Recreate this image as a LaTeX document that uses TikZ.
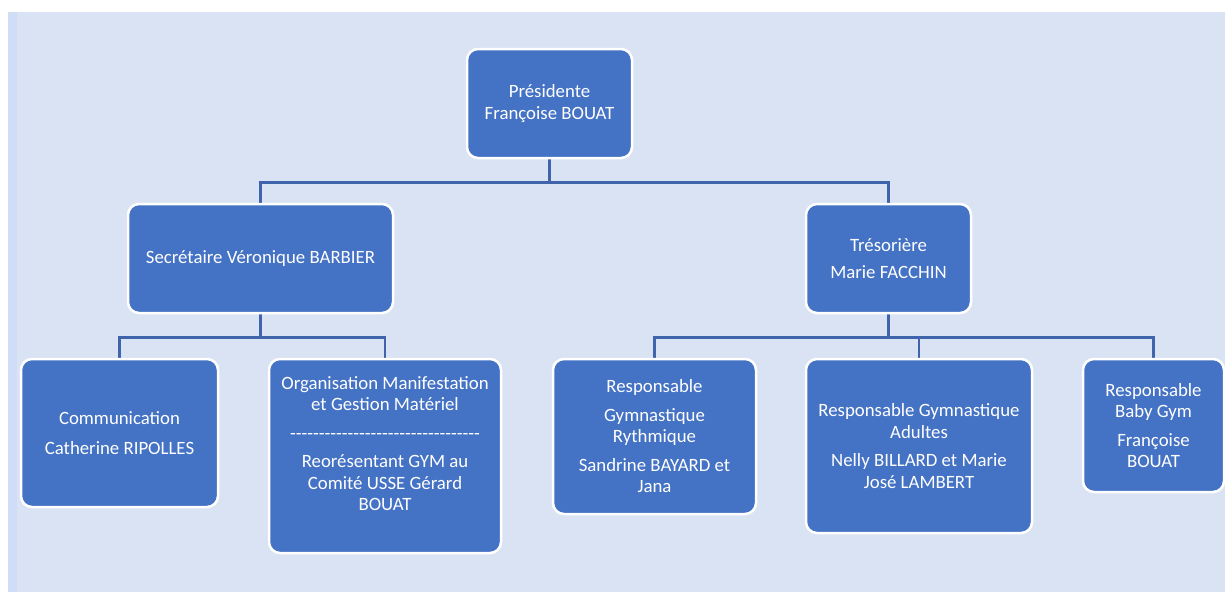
\documentclass[tikz,border=0pt]{standalone}
\usepackage{fontspec}
\usetikzlibrary{backgrounds}
\setmainfont{Carlito}
\definecolor{boxblue}{RGB}{68,114,196}
\definecolor{lineblue}{RGB}{63,100,172}
\definecolor{bgblue}{RGB}{218,227,243}
\definecolor{stripblue}{RGB}{207,221,247}
\newcommand\boxfont{\fontsize{18.8}{21.5}\selectfont}
\newcommand\dd{-\kern0pt}
\newcommand\dashrow{\dd\dd\dd\dd\dd\dd\dd\dd\dd\dd\dd\dd\dd\dd\dd\dd\dd\dd\dd\dd\dd\dd\dd\dd\dd\dd\dd\dd\dd\dd\dd\dd\dd}
\begin{document}
\begin{tikzpicture}[x=1pt,y=-1pt,
  box/.style={draw=white,line width=2.5pt,fill=boxblue,rounded corners=11pt,text=white,align=center,inner sep=0pt,font=\boxfont},
  conn/.style={draw=lineblue,line width=2.6pt},
  txt/.style={text=white,align=center,inner sep=0pt,font=\boxfont}]
\useasboundingbox (0,0) rectangle (1225,592);

\node[box,minimum width=165pt,minimum height=109pt] (pres) at (549.5,103.5) {Présidente\\Françoise BOUAT};
\node[box,minimum width=265pt,minimum height=109pt] (sec) at (260.5,258.5) {Secrétaire Véronique BARBIER};
\node[box,minimum width=165pt,minimum height=109pt] (tres) at (888.5,258.5) {Trésorière\\[6pt]Marie FACCHIN};
\node[box,minimum width=197pt,minimum height=148pt] (comm) at (119.5,433) {Communication\\[8pt]Catherine RIPOLLES};
\node[box,minimum width=232pt,minimum height=194pt] (org) at (385,456) {};
\node[box,minimum width=203pt,minimum height=155pt] (gr) at (654.5,436.5) {Responsable\\[7pt]Gymnastique\\Rythmique\\[7pt]Sandrine BAYARD et\\Jana};
\node[box,minimum width=226pt,minimum height=174pt] (adu) at (919,446) {Responsable Gymnastique\\Adultes\\[7pt]Nelly BILLARD et Marie\\José LAMBERT};
\node[box,minimum width=141pt,minimum height=133pt] (baby) at (1153.5,425.5) {Responsable\\Baby Gym\\[7pt]Françoise\\BOUAT};
\node[txt] (orgt) at (385,443.5) {Organisation Manifestation\\et Gestion Matériel\\[7pt]\dashrow\\[7pt]Reorésentant GYM au\\Comité USSE Gérard\\BOUAT};

\begin{scope}[on background layer]
\fill[white] (0,0) rectangle (1225,592);
\fill[bgblue] (8,12) rectangle (1225,592);
\fill[stripblue] (8,12) rectangle (17,592);
\draw[conn] (pres.south) -- ++(0,23) coordinate (p1);
\draw[conn] (p1) -| (sec.north);
\draw[conn] (p1) -| (tres.north);
\draw[conn] (sec.south) -- ++(0,23) coordinate (s1);
\draw[conn] (s1) -| (comm.north);
\draw[conn] (s1) -| (org.north);
\draw[conn] (tres.south) -- ++(0,23) coordinate (t1);
\draw[conn] (t1) -| (gr.north);
\draw[conn] (t1) -| (adu.north);
\draw[conn] (t1) -| (baby.north);
\end{scope}
\end{tikzpicture}
\end{document}
